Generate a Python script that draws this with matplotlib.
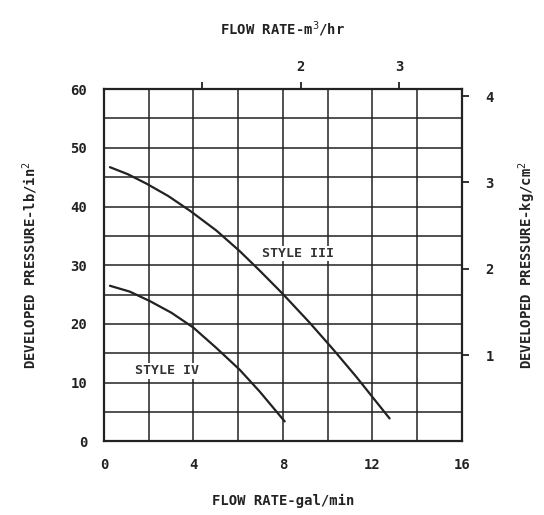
import matplotlib
matplotlib.use("Agg")
import matplotlib.pyplot as plt
import numpy as np

# Data
style3_gpm = [0.27, 1.07, 1.9, 2.87, 3.84, 5.03, 6.07, 6.96, 8.0, 9.2, 10.24, 11.28, 12.77]
style3_psi = [46.7, 45.5, 43.9, 41.8, 39.3, 35.9, 32.4, 29.1, 25.1, 20.2, 15.7, 11.0, 3.9]
style4_gpm = [0.27, 1.16, 2.05, 3.02, 3.99, 5.03, 6.07, 6.96, 8.08]
style4_psi = [26.5, 25.5, 23.9, 21.9, 19.4, 15.9, 12.2, 8.5, 3.4]

x_ticks = [0, 4, 8, 12, 16]
y_ticks = [0, 10, 20, 30, 40, 50, 60]
top_ticks = [1, 2, 3]
top_labels = ["", "2", "3"]
right_ticks = [1, 2, 3, 4]
right_labels = ["1", "2", "3", "4"]

GPM_PER_M3H = 4.403
PSI_PER_KGCM2 = 14.7

FONT = "DejaVu Sans Mono"
plt.rcParams["font.family"] = [FONT]
INK = "#222222"

fig = plt.figure(figsize=(5.44, 5.15), dpi=100)
ax = fig.add_axes([0.191, 0.143, 0.658, 0.684])

ax.set_xlim(0, 16)
ax.set_ylim(0, 60)

# grid
for gx in np.arange(2, 16, 2):
    ax.axvline(gx, color=INK, lw=1.1, zorder=1)
for gy in np.arange(5, 60, 5):
    ax.axhline(gy, color=INK, lw=1.1, zorder=1)

ax.plot(style3_gpm, style3_psi, color=INK, lw=1.6, zorder=3,
        solid_joinstyle="round", solid_capstyle="round")
ax.plot(style4_gpm, style4_psi, color=INK, lw=1.6, zorder=3,
        solid_joinstyle="round", solid_capstyle="round")

ax.text(7.05, 32, "STYLE III", fontsize=9.5, fontweight="bold", color="#333333",
        va="center", ha="left", zorder=4,
        bbox=dict(facecolor="white", edgecolor="none", pad=1))
ax.text(1.4, 12, "STYLE IV", fontsize=9.5, fontweight="bold", color="#333333",
        va="center", ha="left", zorder=4,
        bbox=dict(facecolor="white", edgecolor="none", pad=1))

for s in ax.spines.values():
    s.set_linewidth(1.6)
    s.set_color(INK)

ax.set_xticks(x_ticks)
ax.set_yticks(y_ticks)
ax.tick_params(axis="both", length=0, labelsize=10, colors=INK, pad=12)
for lab in ax.get_xticklabels() + ax.get_yticklabels():
    lab.set_fontweight("bold")
ax.set_xlabel("FLOW RATE-gal/min", fontsize=10, fontweight="bold", labelpad=16, color=INK)
ax.set_ylabel("DEVELOPED PRESSURE-lb/in$^2$", fontsize=10, fontweight="bold", labelpad=22, color=INK)

# top axis m3/hr
top = ax.secondary_xaxis("top", functions=(lambda x: x / GPM_PER_M3H, lambda m: m * GPM_PER_M3H))
top.set_xticks(top_ticks)
top.set_xticklabels(top_labels)
top.tick_params(length=5, width=1.3, labelsize=10, colors=INK, pad=6)
for lab in top.get_xticklabels():
    lab.set_fontweight("bold")
top.set_xlabel("FLOW RATE-m$^3$/hr", fontsize=10, fontweight="bold", labelpad=18, color=INK)
top.spines["top"].set_visible(False)

# right axis kg/cm2
right = ax.secondary_yaxis("right", functions=(lambda p: p / PSI_PER_KGCM2, lambda k: k * PSI_PER_KGCM2))
right.set_yticks(right_ticks)
right.set_yticklabels(right_labels)
right.tick_params(length=5, width=1.3, labelsize=10, colors=INK, pad=12)
for lab in right.get_yticklabels():
    lab.set_fontweight("bold")
right.set_ylabel("DEVELOPED PRESSURE-kg/cm$^2$", fontsize=10, fontweight="bold", labelpad=16, color=INK)
right.spines["right"].set_visible(False)

fig.savefig("out.png", dpi=100, facecolor="white")
